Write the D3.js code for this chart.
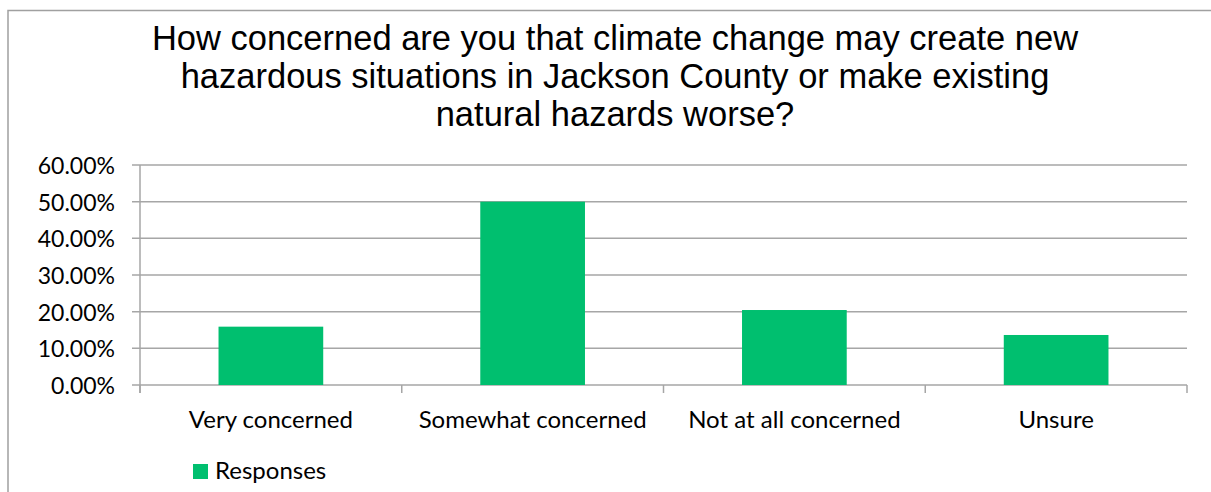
<!DOCTYPE html>
<html>
<head>
<meta charset="utf-8">
<script src="https://cdn.jsdelivr.net/npm/d3@7"></script>
<style>
  html, body { margin: 0; padding: 0; background: #fff; }
  svg { display: block; }
</style>
</head>
<body>
<div id="chart"></div>
<script>
// Survey chart: climate change concern, Jackson County
const titleLines = [
  "How concerned are you that climate change may create new",
  "hazardous situations in Jackson County or make existing",
  "natural hazards worse?"
];
const categories = ["Very concerned", "Somewhat concerned", "Not at all concerned", "Unsure"];
const responses = [0.1591, 0.5000, 0.2045, 0.1364];
const yTicks = [0, 0.1, 0.2, 0.3, 0.4, 0.5, 0.6];
const seriesName = "Responses";

(function() {
  const W = 1211, H = 492;
  const green = "#00bf6f";
  const grid = "#a6a6a6";
  const labelFont = "Lato, 'Open Sans', sans-serif";

  const svg = d3.select("#chart").append("svg")
    .attr("width", W).attr("height", H);

  // outer chart frame (right/bottom edges fall outside the picture)
  svg.append("path")
    .attr("d", `M8,${H + 5} L8,10.5 L${W + 5},10.5`)
    .attr("fill", "none").attr("stroke", "#a0a0a0").attr("stroke-width", 1.5);

  // title
  const title = svg.append("text")
    .attr("text-anchor", "middle")
    .style("font-family", "'Liberation Sans', Arial, sans-serif")
    .style("font-size", "34.5px").attr("fill", "#000");
  titleLines.forEach((t, i) => {
    title.append("tspan").attr("x", 615).attr("y", 50 + i * 38).text(t);
  });

  const plot = { left: 140, right: 1187, top: 165, bottom: 385 };

  const x = d3.scaleBand().domain(categories)
    .range([plot.left, plot.right]).paddingInner(0.6).paddingOuter(0.3);
  const y = d3.scaleLinear().domain([0, 0.6]).range([plot.bottom, plot.top]);

  // gridlines
  svg.append("g").selectAll("line").data(yTicks).enter().append("line")
    .attr("x1", plot.left - 8).attr("x2", plot.right)
    .attr("y1", d => y(d)).attr("y2", d => y(d))
    .attr("stroke", grid).attr("stroke-width", 1.5);

  // y axis line
  svg.append("line")
    .attr("x1", plot.left).attr("x2", plot.left)
    .attr("y1", plot.top).attr("y2", plot.bottom + 8)
    .attr("stroke", grid).attr("stroke-width", 1.5);

  // y labels
  const yAxis = d3.axisLeft(y).tickValues(yTicks).tickSize(0).tickPadding(0)
    .tickFormat(d => (d * 100).toFixed(2) + "%");
  const yg = svg.append("g").attr("transform", `translate(${plot.left - 25},1)`).call(yAxis);
  yg.select(".domain").remove();
  yg.selectAll("text").style("font-family", labelFont).style("font-size", "23px").attr("fill", "#000");

  // category boundary ticks
  const step = (plot.right - plot.left) / categories.length;
  svg.append("g").selectAll("line").data(d3.range(categories.length + 1)).enter().append("line")
    .attr("x1", i => plot.left + i * step).attr("x2", i => plot.left + i * step)
    .attr("y1", plot.bottom).attr("y2", plot.bottom + 8)
    .attr("stroke", grid).attr("stroke-width", 1.5);

  // bars
  svg.append("g").selectAll("rect").data(categories).enter().append("rect")
    .attr("x", d => x(d)).attr("width", x.bandwidth())
    .attr("y", (d, i) => y(responses[i]))
    .attr("height", (d, i) => plot.bottom - y(responses[i]))
    .attr("fill", green);

  // x labels
  const xAxis = d3.axisBottom(x).tickSize(0).tickPadding(0);
  const xg = svg.append("g").attr("transform", `translate(0,${plot.bottom + 43})`).call(xAxis);
  xg.select(".domain").remove();
  xg.selectAll("text").attr("dy", 0)
    .style("font-family", labelFont).style("font-size", "24px").attr("fill", "#000");

  // legend
  const leg = svg.append("g").attr("transform", "translate(193,464)");
  leg.append("rect").attr("width", 15).attr("height", 15).attr("fill", green);
  leg.append("text").attr("x", 22).attr("y", 15)
    .style("font-family", labelFont).style("font-size", "24px").attr("fill", "#000")
    .text(seriesName);
})();
</script>
</body>
</html>
